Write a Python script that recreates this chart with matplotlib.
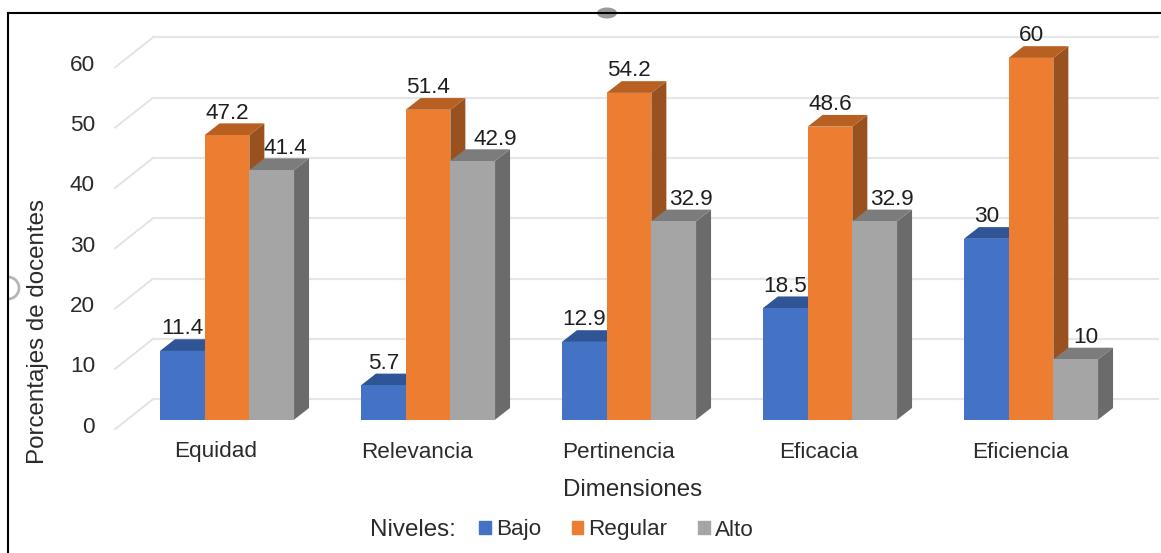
import matplotlib
matplotlib.use("Agg")
import matplotlib.pyplot as plt
from matplotlib.patches import Patch, Ellipse, Arc

categories = ["Equidad", "Relevancia", "Pertinencia", "Eficacia", "Eficiencia"]
series_names = ["Bajo", "Regular", "Alto"]
bajo = [11.4, 5.7, 12.9, 18.5, 30]
regular = [47.2, 51.4, 54.2, 48.6, 60]
alto = [41.4, 42.9, 32.9, 32.9, 10]
y_ticks = [0, 10, 20, 30, 40, 50, 60]

plt.rcParams["font.family"] = ["Liberation Sans", "DejaVu Sans"]

W, H = 1161, 553
GROUP_PX = 201.0
UNIT_PX = 6.03
X0_PX, Y0_PX = 227.0, 419.7
TICK_SIZE = 16.2
TITLE_SIZE = 17.4
TEXT_COLOR = "#2b2b2b"

fig = plt.figure(figsize=(W / 100, H / 100), dpi=100)
ax = fig.add_axes([0, 0, 1, 1])
ax.set_xlim(-X0_PX / GROUP_PX, (W - X0_PX) / GROUP_PX)
ax.set_ylim((Y0_PX - H) / UNIT_PX, Y0_PX / UNIT_PX)
ax.axis("off")


def px(dx):
    return dx / GROUP_PX


def py(dy):
    return dy / UNIT_PX


# floor and wall gridlines sit behind the bars
wall_dx, wall_dy = px(38), py(30)
grid_left = px(115 - X0_PX)
grid_right = px(1158 - X0_PX)
wall_shift = py(-9.5)
for t in y_ticks:
    y = t + wall_shift
    ax.plot([grid_left, grid_left + wall_dx], [y, y + wall_dy], color="#e2e2e2", lw=1.3, zorder=1)
    ax.plot([grid_left + wall_dx, grid_right], [y + wall_dy, y + wall_dy], color="#e6e6e6", lw=1.6, zorder=1)
    ax.text(px(95 - X0_PX), t + py(-7.5), str(t), ha="right", va="center", fontsize=TICK_SIZE, color=TEXT_COLOR)

bar_w = 44.7 / GROUP_PX
depth_x, depth_y = px(15), py(11.7)
# front, top and side shades for each series
shades = [
    ("#4472C4", "#2F5597", "#2A4C88"),
    ("#ED7D31", "#B85F22", "#9A5120"),
    ("#A5A5A5", "#7C7C7C", "#6B6B6B"),
]
# label nudges in pixels where the neighbouring bar pushes a label sideways
label_dx = {
    (0, 2): 14, (1, 2): 23, (2, 2): 17, (3, 2): 17, (4, 2): 10,
}

for j, values in enumerate([bajo, regular, alto]):
    front, top, side = shades[j]
    for i, v in enumerate(values):
        left = i + (j - 1.5) * bar_w
        right = left + bar_w
        z = 3 + j
        ax.fill([right, right + depth_x, right + depth_x, right],
                [0, depth_y, v + depth_y, v], color=side, lw=0, zorder=z)
        ax.fill([left, left + depth_x, right + depth_x, right],
                [v, v + depth_y, v + depth_y, v], color=top, lw=0, zorder=z)
        ax.bar(left, v, width=bar_w, align="edge", color=front, lw=0, zorder=z + 0.5)
        ax.text(left + bar_w / 2 + px(label_dx.get((i, j), 0)), v + py(22), str(v),
                ha="center", va="center", fontsize=TICK_SIZE, color="#1f1f1f", zorder=10)

for i, name in enumerate(categories):
    ax.text(i + px(-11), py(Y0_PX - 452), name, ha="center", va="center", fontsize=TICK_SIZE, color=TEXT_COLOR)

ax.text(px(633 - X0_PX), py(Y0_PX - 490), "Dimensiones", ha="center", va="center", fontsize=TITLE_SIZE, color=TEXT_COLOR)
ax.text(px(38 - X0_PX), py(Y0_PX - 331), "Porcentajes de docentes", rotation=90,
        ha="center", va="center", fontsize=TITLE_SIZE, color=TEXT_COLOR)
ax.text(px(413 - X0_PX), py(Y0_PX - 530), "Niveles:", ha="center", va="center", fontsize=TITLE_SIZE, color=TEXT_COLOR)

handles = [Patch(color=shades[j][0], label=series_names[j]) for j in range(3)]
ax.legend(handles=handles, ncols=3, frameon=False, fontsize=TICK_SIZE, handlelength=0.53, handleheight=0.53,
          handletextpad=0.22, columnspacing=1.35, loc="center left",
          bbox_to_anchor=(479 / W, 1 - 530 / H), borderaxespad=0, borderpad=0, labelcolor=TEXT_COLOR)

# selection handles on the chart border
ax.add_patch(Ellipse((px(607 - X0_PX), py(Y0_PX - 13)), px(20), py(11), color="#9a9a9a", lw=0, zorder=2))
ax.add_patch(Arc((px(8 - X0_PX), py(Y0_PX - 288)), px(22), py(22), theta1=-90, theta2=90,
                 color="#b5b5b5", lw=2, zorder=2))

# chart frame
fig.add_artist(plt.Line2D([8 / W, 8 / W], [0, 1 - 13 / H], color="black", lw=1.5))
fig.add_artist(plt.Line2D([8 / W, 1], [1 - 13 / H, 1 - 13 / H], color="black", lw=1.5))

fig.savefig("out.png", dpi=100)
